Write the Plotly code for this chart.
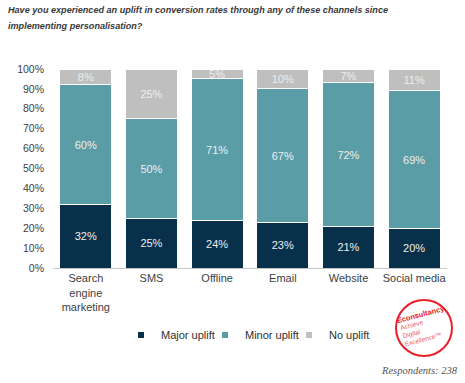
import plotly.graph_objects as go

categories = ["Search<br>engine<br>marketing", "SMS", "Offline", "Email", "Website", "Social media"]
major_uplift = [32, 25, 24, 23, 21, 20]
minor_uplift = [60, 50, 71, 67, 72, 69]
no_uplift = [8, 25, 5, 10, 7, 11]
tick_vals = [0, 10, 20, 30, 40, 50, 60, 70, 80, 90, 100]
tick_text = [f"{v}%" for v in tick_vals]
title_lines = [
    "Have you experienced an uplift in conversion rates through any of these channels since",
    "implementing personalisation?",
]

series = [
    ("Major uplift", major_uplift, "#08304a"),
    ("Minor uplift", minor_uplift, "#5b9da6"),
    ("No uplift", no_uplift, "#bfbfbf"),
]

fig = go.Figure()
for name, vals, color in series:
    fig.add_trace(go.Bar(
        x=categories, y=vals, name=name, showlegend=False,
        marker=dict(color=color, line=dict(color="white", width=1)),
        text=[f"{v}%" for v in vals],
        textposition="inside", insidetextanchor="middle",
        textfont=dict(family="Liberation Sans, Arial", size=11, color="#eeeeee"),
        hoverinfo="skip",
    ))
for name, vals, color in series:
    fig.add_trace(go.Scatter(
        x=[None], y=[None], mode="markers", name=name,
        marker=dict(symbol="square", size=6, color=color),
        hoverinfo="skip",
    ))

L, R, T, B = 53, 18, 69, 115
W, H = 465, 383
pw = W - L - R
ph = H - T - B

def px(x):
    return (x - L) / pw

def py(y):
    return (H - B - y) / ph

fig.update_layout(
    barmode="stack", bargap=0.21,
    width=W, height=H,
    margin=dict(l=L, r=R, t=T, b=B, pad=0),
    paper_bgcolor="white", plot_bgcolor="white",
    uniformtext=dict(minsize=11, mode="show"),
    font=dict(family="Liberation Sans, Arial", size=11, color="#404040"),
    showlegend=True,
    legend=dict(orientation="h", x=px(121), xanchor="left", y=py(335), yanchor="middle",
                font=dict(size=11, color="#303030"), itemwidth=30, traceorder="normal",
                entrywidth=39, entrywidthmode="pixels", bgcolor="rgba(0,0,0,0)"),
    xaxis=dict(showline=True, linecolor="#c8c8c8", linewidth=1, ticks="", showgrid=False,
               tickfont=dict(size=11, color="#404040")),
    yaxis=dict(range=[0, 100], tickvals=tick_vals, ticktext=tick_text, showgrid=False,
               zeroline=False, showline=False, ticks="", ticklabelstandoff=8,
               tickfont=dict(size=10.5, color="#404040")),
)

for line, yy in zip(title_lines, [10, 26]):
    fig.add_annotation(x=px(6), y=py(yy), xref="paper", yref="paper", xanchor="left", yanchor="middle",
                       text=f"<b><i>{line}</i></b>", showarrow=False,
                       font=dict(family="Liberation Sans, Arial", size=9.1, color="#3a3a3a"))

# Logo circle
cx, cy = px(424), py(328)
fig.add_shape(type="circle", xref="paper", yref="paper",
              xsizemode="pixel", ysizemode="pixel", xanchor=cx, yanchor=cy,
              x0=-28, x1=28, y0=-28, y1=28,
              line=dict(color="#e8202a", width=2), fillcolor="rgba(0,0,0,0)")
fig.add_annotation(x=px(421), y=py(314), xref="paper", yref="paper", text="<b>Econsultancy</b>",
                   xanchor="center", yanchor="middle",
                   showarrow=False, textangle=-15, font=dict(size=7.5, color="#e8202a"))
fig.add_annotation(x=px(421), y=py(331), xref="paper", yref="paper",
                   text="Achieve<br>Digital<br>Excellence™", xanchor="center", yanchor="middle",
                   showarrow=False, textangle=-15, align="left",
                   font=dict(size=6.5, color="#ee5a5f"))

fig.add_annotation(x=px(460), y=py(370), xref="paper", yref="paper", xanchor="right", yanchor="middle",
                   text="<i>Respondents: 238</i>", showarrow=False,
                   font=dict(family="Liberation Serif, DejaVu Serif", size=10.5, color="#555555"))

fig.write_html("out.html", post_script="document.body.style.margin='0px';",
               config={"displayModeBar": False})
